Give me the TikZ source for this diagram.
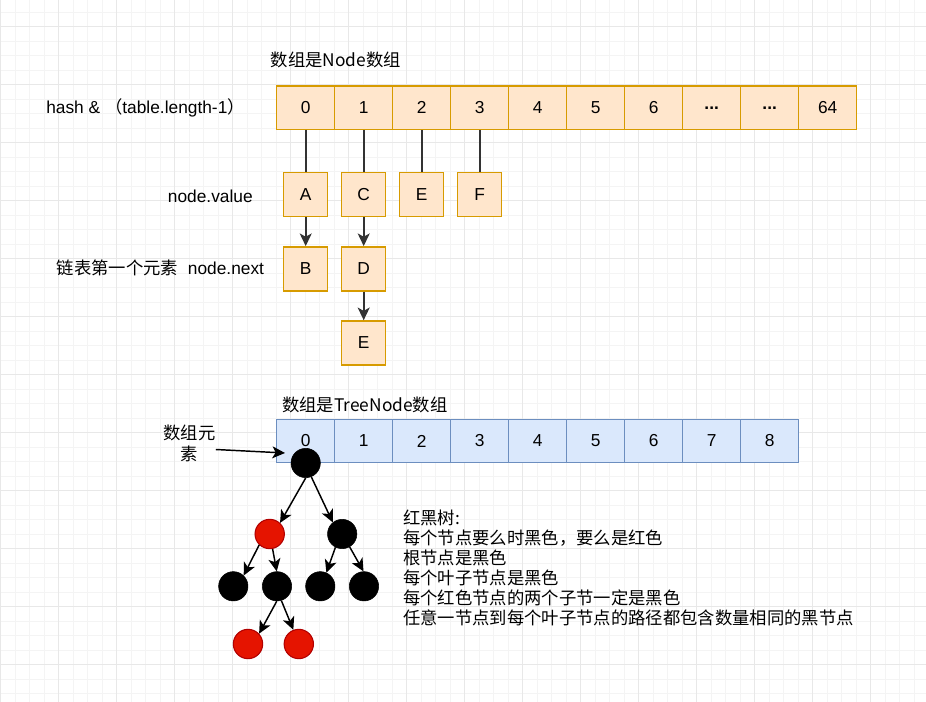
\documentclass[tikz,border=0pt]{standalone}
\usepackage{fontspec}
\setmainfont{Liberation Sans}
\newfontfamily\cjk{Noto Sans CJK SC}
\usetikzlibrary{arrows.meta,positioning}

\definecolor{orangefill}{HTML}{FFE6CC}
\definecolor{orangeline}{HTML}{D79B00}
\definecolor{bluefill}{HTML}{DAE8FC}
\definecolor{blueline}{HTML}{6C8EBF}
\definecolor{redfill}{HTML}{E51400}
\definecolor{redline}{HTML}{B20000}
\definecolor{gridminor}{HTML}{F4F4F4}
\definecolor{gridmajor}{HTML}{E8E8E8}

\begin{document}
\begin{tikzpicture}[
        x=0.75pt, y=-0.75pt,
        >={Stealth[length=9.5pt,width=9pt,inset=2.5pt]},
        font=\fontsize{13}{16}\selectfont,
        cell/.style={draw=orangeline, fill=orangefill, line width=1.1pt,
            minimum width=43.5pt, minimum height=32.6pt, inner sep=0pt},
        tcell/.style={cell, draw=blueline, fill=bluefill},
        valbox/.style={cell, minimum width=33pt, minimum height=33pt},
        ptr/.style={draw=black!80, line width=1.2pt},
        blk/.style={circle, fill=black, draw=black, minimum size=22pt, inner sep=0pt},
        rd/.style={blk, fill=redfill, draw=redline, line width=0.8pt},
        treearrow/.style={->, line width=1.1pt},
        lbl/.style={inner sep=0pt}
    ]
    % 背景网格
    \useasboundingbox[fill=white] (0,0) rectangle (926,702);
    \foreach \k in {0,...,63} \draw[gridminor, line width=0.6pt] ({0.6+14.5*\k},0) -- ({0.6+14.5*\k},702);
    \foreach \k in {0,...,47} \draw[gridminor, line width=0.6pt] (0,{12.2+14.5*\k}) -- (926,{12.2+14.5*\k});
    \foreach \k in {0,...,15} \draw[gridmajor, line width=0.6pt] ({0.6+58*\k},0) -- ({0.6+58*\k},702);
    \foreach \k in {0,...,11} \draw[gridmajor, line width=0.6pt] (0,{26.7+58*\k}) -- (926,{26.7+58*\k});

    % Node 数组
    \node[lbl, anchor=west, font=\cjk\fontsize{13}{16}\selectfont] (title1) at (270.5,60) {数组是Node数组};
    \node[lbl, anchor=west] (hashlbl) at (46,108) {hash \& {\cjk （}table.length-1{\cjk ）}};
    \foreach \v [count=\i from 0] in {0,1,2,3,4,5,6,\textbf{...},\textbf{...},64}
        \node[cell] (n\i) at ({305.7+58*\i},107.75) {\v};

    % 链表
    \node[valbox] (A) at (305.7,194.7) {A};
    \node[valbox] (C) at (363.7,194.7) {C};
    \node[valbox] (E) at (421.7,194.7) {E};
    \node[valbox] (F) at (479.7,194.7) {F};
    \node[valbox, below=21.5pt of A] (B) {B};
    \node[valbox, below=21.5pt of C] (D) {D};
    \node[valbox, below=21.5pt of D] (E2) {E};
    \node[lbl, anchor=east] (vallbl) at (253,196.5) {node.value};
    \node[lbl, anchor=east] (nextlbl) at (264.3,268) {{\cjk 链表第一个元素}\ \ node.next};

    \draw[ptr] (n0) -- (A);
    \draw[ptr] (n1) -- (C);
    \draw[ptr] (n2) -- (E);
    \draw[ptr] (n3) -- (F);
    \draw[ptr, ->] (A) -- (B);
    \draw[ptr, ->] (C) -- (D);
    \draw[ptr, ->] (D) -- (E2);

    % TreeNode 数组
    \node[lbl, anchor=west, font=\cjk\fontsize{13}{16}\selectfont] (title2) at (282,405) {数组是TreeNode数组};
    \foreach \i in {0,...,8}
        \node[tcell] (t\i) at ({305.7+58*\i},441) {\i};
    \node[lbl, align=center, font=\cjk\fontsize{13}{15.8}\selectfont] (elemlbl) at (189.5,443.5) {数组元\\素};

    % 红黑树
    \node[blk] (root) at (305.7,463) {};
    \node[rd] (r1) at (269.7,534) {};
    \node[blk] (b1) at (342.2,534) {};
    \node[blk] (b11) at (233.3,586.3) {};
    \node[blk] (b12) at (277,586.3) {};
    \node[blk] (b21) at (320.3,586.3) {};
    \node[blk] (b22) at (364,586.3) {};
    \node[rd] (r121) at (248,644) {};
    \node[rd] (r122) at (298.8,644) {};
    \coordinate (elemhead) at (285,453);

    \draw[treearrow] ([yshift=-4.5pt]elemlbl.east) -- (elemhead);
    \draw[treearrow] (root.270) -- (r1.47);
    \draw[treearrow] (root.292) -- (b1.129);
    \draw[treearrow] (r1.226) -- (b11.46);
    \draw[treearrow] (r1.281) -- (b12.91);
    \draw[treearrow] (b1.243) -- (b21.66);
    \draw[treearrow] (b1.300) -- (b22.92);
    \draw[treearrow] (b12.269) -- (r121.43);
    \draw[treearrow] (b12.287) -- (r122.111);

    \node[lbl, anchor=north west, align=left, font=\cjk\fontsize{13}{15}\selectfont] (rules) at (403,509.5)
        {红黑树:\\每个节点要么时黑色，要么是红色\\根节点是黑色\\每个叶子节点是黑色\\每个红色节点的两个子节一定是黑色\\任意一节点到每个叶子节点的路径都包含数量相同的黑节点};
\end{tikzpicture}
\end{document}
